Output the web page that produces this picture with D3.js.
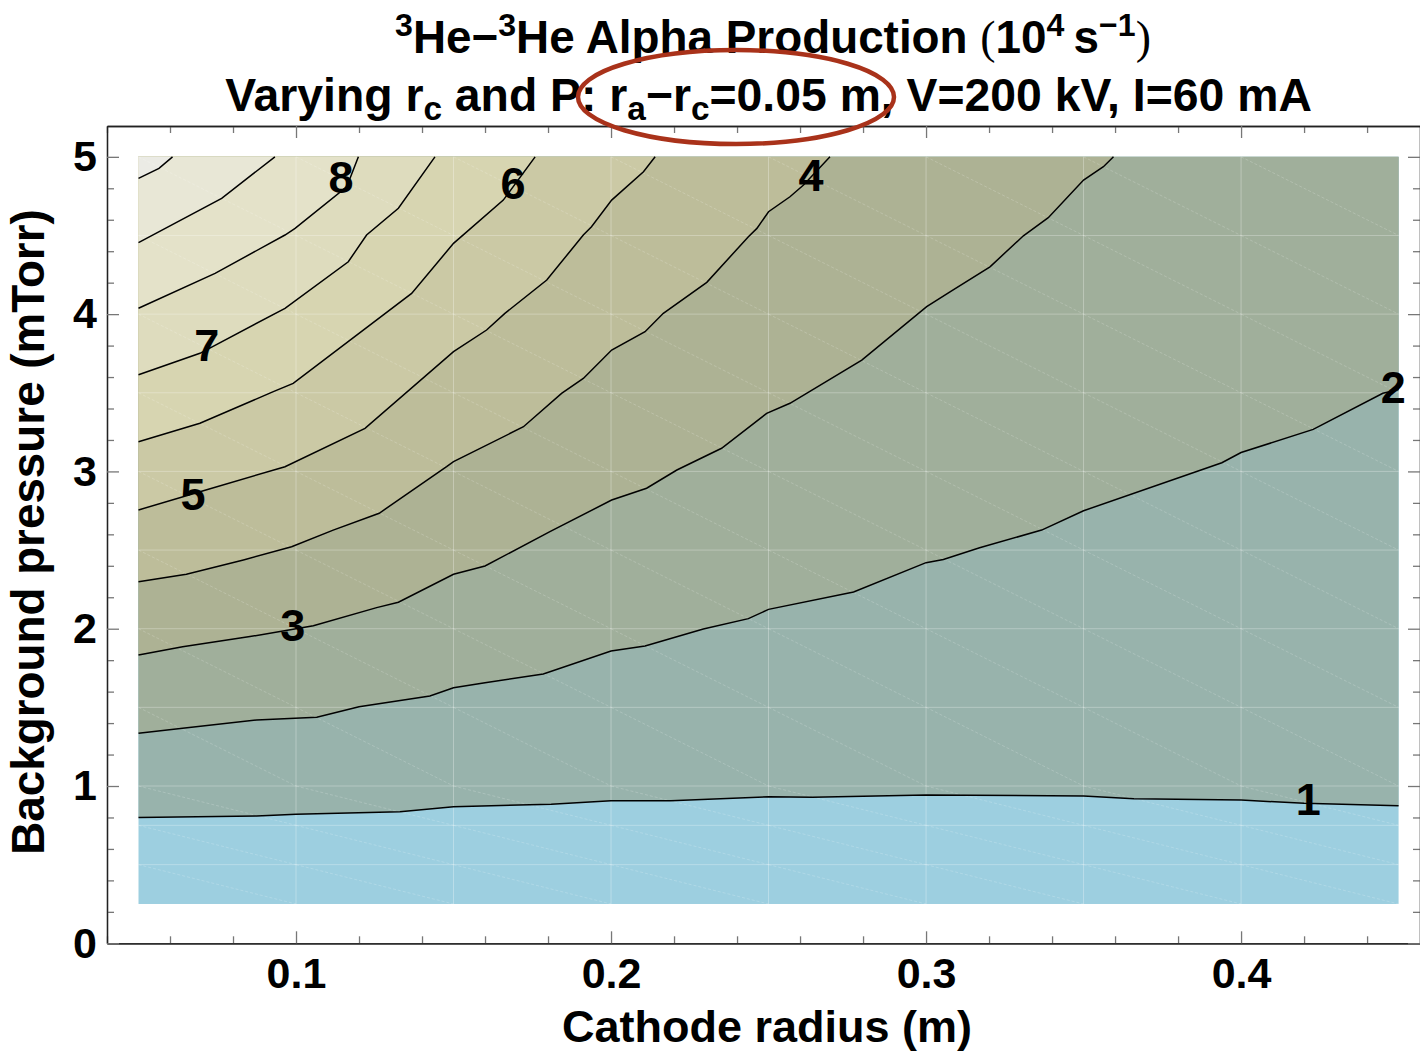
<!DOCTYPE html>
<html><head><meta charset="utf-8">
<script src="https://cdn.jsdelivr.net/npm/d3@7"></script>
<style>
body{margin:0;background:#fff}
svg{display:block}
text{font-family:"Liberation Sans",Arial,sans-serif;font-weight:bold;fill:#000}
</style>
</head><body>
<svg id="chart" width="1420" height="1054"></svg>
<script>
// ---- data (cathode radius m, pressure mTorr) ----
const levels = [1,2,3,4,5,6,7,8,9,10];
const c1 = [[0.05,0.80],[0.0875,0.81],[0.10,0.82],[0.133,0.837],[0.15,0.868],[0.181,0.884],[0.20,0.907],[0.219,0.907],[0.25,0.932],[0.264,0.928],[0.30,0.943],[0.35,0.936],[0.366,0.919],[0.40,0.911],[0.42,0.89],[0.45,0.875]];
const c2 = [[0.05,1.335],[0.064,1.367],[0.0875,1.42],[0.1066,1.437],[0.12,1.504],[0.1425,1.572],[0.15,1.625],[0.16,1.657],[0.1785,1.712],[0.20,1.858],[0.2108,1.89],[0.2293,1.998],[0.2436,2.064],[0.25,2.123],[0.277,2.233],[0.30,2.42],[0.3055,2.44],[0.317,2.515],[0.3367,2.627],[0.35,2.75],[0.3939,3.055],[0.40,3.12],[0.4229,3.267],[0.445,3.497],[0.45,3.52]];
const c3 = [[0.05,1.833],[0.064,1.886],[0.0854,1.95],[0.1055,2.019],[0.1256,2.134],[0.1325,2.168],[0.15,2.346],[0.16,2.399],[0.1806,2.617],[0.2002,2.818],[0.2113,2.893],[0.2209,3.009],[0.2351,3.147],[0.2494,3.369],[0.2568,3.433],[0.2796,3.708],[0.3002,4.047],[0.3076,4.142],[0.3203,4.301],[0.3309,4.498],[0.3388,4.613],[0.35,4.852],[0.3563,4.937],[0.3595,5.0]];
const c4 = [[0.05,2.299],[0.0652,2.346],[0.0833,2.437],[0.0986,2.521],[0.1118,2.627],[0.1264,2.734],[0.1478,3.03],[0.15,3.062],[0.1722,3.284],[0.1843,3.496],[0.1912,3.591],[0.2002,3.772],[0.2108,3.888],[0.2166,4.005],[0.2304,4.202],[0.2436,4.492],[0.2463,4.545],[0.25,4.651],[0.2568,4.746],[0.2611,4.821],[0.2695,5.0]];
const c5 = [[0.05,2.755],[0.0695,2.871],[0.0965,3.03],[0.1219,3.274],[0.15,3.761],[0.1605,3.899],[0.1663,4.005],[0.1796,4.217],[0.1912,4.503],[0.1938,4.556],[0.2002,4.725],[0.2103,4.905],[0.214,5.0]];
const c6 = [[0.05,3.189],[0.0695,3.306],[0.0928,3.507],[0.0991,3.56],[0.1367,4.132],[0.15,4.45],[0.1658,4.725],[0.1759,5.0]];
const c7 = [[0.05,3.615],[0.0695,3.751],[0.0965,4.037],[0.1166,4.333],[0.1224,4.503],[0.1325,4.673],[0.1441,5.0]];
const c8 = [[0.05,4.037],[0.0743,4.259],[0.0965,4.503],[0.0997,4.545],[0.1161,4.81],[0.1198,5.0]];
const c9 = [[0.05,4.454],[0.0764,4.736],[0.0933,5.0]];
const c10 = [[0.05,4.863],[0.0565,4.927],[0.0608,5.0]];
const contourLines = [c1,c2,c3,c4,c5,c6,c7,c8,c9,c10];
const fillColors = ["#9dcfe0","#98b3ac","#a0af9b","#adb294","#bdbd9a","#cbc9a5","#d7d5b1","#dedcbe","#e4e2c9","#e8e7d6","#ebebe5"];
const labelText = ["8","6","4","7","5","3","2","1"];
const labelX = [0.1143,0.1689,0.2635,0.0717,0.0673,0.0990,0.4483,0.4213];
const labelY = [4.872,4.834,4.884,3.804,2.856,2.024,3.536,0.917];
const xMajor = [0.1,0.2,0.3,0.4];
const xMajorLabels = ["0.1","0.2","0.3","0.4"];
const yMajor = [0,1,2,3,4,5];
const yMajorLabels = ["0","1","2","3","4","5"];
const meshX = [0.05,0.1,0.15,0.2,0.25,0.3,0.35,0.4,0.45];
const meshY = [0.25,0.5,0.75,1,1.5,2,2.5,3,3.5,4,4.5,5];
const dataX = [0.05,0.45], dataY = [0.25,5.0];

// ---- layout ----
const svg = d3.select("#chart");
const x = d3.scaleLinear().domain([0.04,0.4568]).range([107,1420]);
const y = d3.scaleLinear().domain([0,5.196]).range([943.3,126]);
const line = d3.line().x(d=>x(d[0])).y(d=>y(d[1]));

// base fill
svg.append("rect").attr("x",x(dataX[0])).attr("y",y(dataY[1]))
  .attr("width",x(dataX[1])-x(dataX[0])).attr("height",y(dataY[0])-y(dataY[1]))
  .attr("fill",fillColors[0]);

// level fills
contourLines.forEach((pts,i)=>{
  const poly = pts.slice();
  const last = pts[pts.length-1];
  if (last[0] >= dataX[1]-1e-9) poly.push([dataX[1],dataY[1]]);
  poly.push([dataX[0],dataY[1]]);
  svg.append("path").attr("d",line(poly)+"Z").attr("fill",fillColors[i+1]);
});

// faint mesh
const mesh = svg.append("g").attr("stroke","#ffffff").attr("stroke-width",1).attr("fill","none");
meshX.slice(1,-1).forEach(v=>mesh.append("line").attr("x1",x(v)).attr("x2",x(v)).attr("y1",y(dataY[0])).attr("y2",y(dataY[1])).attr("stroke-opacity",0.3));
meshY.slice(1,-1).forEach(v=>mesh.append("line").attr("x1",x(dataX[0])).attr("x2",x(dataX[1])).attr("y1",y(v)).attr("y2",y(v)).attr("stroke-opacity",0.28));
for (let i=0;i<meshX.length-1;i++) for (let j=0;j<meshY.length-1;j++) {
  mesh.append("line").attr("x1",x(meshX[i])).attr("y1",y(meshY[j+1]))
    .attr("x2",x(meshX[i+1])).attr("y2",y(meshY[j])).attr("stroke-opacity",0.18)
    .attr("stroke-dasharray","3,2");
}

// contour lines
contourLines.forEach(pts=>{
  svg.append("path").attr("d",line(pts)).attr("fill","none").attr("stroke","#000").attr("stroke-width",1.5);
});

// contour labels
svg.append("g").selectAll("text").data(labelText).join("text")
  .attr("x",(d,i)=>x(labelX[i])).attr("y",(d,i)=>y(labelY[i]))
  .attr("text-anchor","middle").attr("dy","0.36em")
  .attr("font-size",45).text(d=>d);

// ---- axes / frame ----
const minorX = d3.range(0.04,0.4601,0.02).filter(v=>!xMajor.some(m=>Math.abs(m-v)<1e-6));
const minorY = d3.range(0,5.1901,0.2).filter(v=>!yMajor.some(m=>Math.abs(m-v)<1e-6));
function styleAxis(g){
  g.select(".domain").attr("stroke","#222").attr("stroke-width",1.3);
  g.selectAll(".tick line").attr("stroke","#777").attr("stroke-width",1.3);
  g.selectAll(".tick text").attr("font-size",43).attr("font-family","Liberation Sans, Arial, sans-serif").attr("font-weight","bold").attr("fill","#000");
}
const H = 943.3, T = 126, L = 107, R = 1420;
// bottom
svg.append("g").attr("transform",`translate(0,${H})`).call(d3.axisBottom(x).tickValues(minorX).tickSizeInner(-7).tickSizeOuter(0).tickFormat("")).call(styleAxis);
svg.append("g").attr("transform",`translate(0,${H})`).call(d3.axisBottom(x).tickValues(xMajor).tickSizeInner(-12).tickSizeOuter(0).tickPadding(14).tickFormat((d,i)=>xMajorLabels[i])).call(styleAxis);
// top
svg.append("g").attr("transform",`translate(0,${T})`).call(d3.axisTop(x).tickValues(minorX).tickSizeInner(-7).tickSizeOuter(0).tickFormat("")).call(styleAxis);
svg.append("g").attr("transform",`translate(0,${T})`).call(d3.axisTop(x).tickValues(xMajor).tickSizeInner(-12).tickSizeOuter(0).tickFormat("")).call(styleAxis);
// left
svg.append("g").attr("transform",`translate(${L},0)`).call(d3.axisLeft(y).tickValues(minorY).tickSizeInner(-7).tickSizeOuter(0).tickFormat("")).call(styleAxis);
svg.append("g").attr("transform",`translate(${L},0)`).call(d3.axisLeft(y).tickValues(yMajor).tickSizeInner(-12).tickSizeOuter(0).tickPadding(10).tickFormat((d,i)=>yMajorLabels[i])).call(styleAxis);
// right
svg.append("g").attr("transform",`translate(${R},0)`).call(d3.axisRight(y).tickValues(minorY).tickSizeInner(-7).tickSizeOuter(0).tickFormat("")).call(styleAxis);
svg.append("g").attr("transform",`translate(${R},0)`).call(d3.axisRight(y).tickValues(yMajor).tickSizeInner(-12).tickSizeOuter(0).tickFormat("")).call(styleAxis);

// axis titles
svg.append("text").attr("x",767).attr("y",1042).attr("text-anchor","middle").attr("font-size",45).text("Cathode radius (m)");
svg.append("text").attr("transform","translate(44,532) rotate(-90)").attr("text-anchor","middle").attr("font-size",45.8).text("Background pressure (mTorr)");

// ---- titles ----
function rich(parent, parts){
  parts.forEach(p=>{
    const t = parent.append("tspan").text(p.t);
    if (p.sup) t.attr("font-size","70%").attr("dy",-17);
    if (p.sub) t.attr("font-size","72%").attr("dy",9);
    if (p.back) t.attr("dy",p.back);
    if (p.serif) t.attr("font-family","Liberation Serif, Times New Roman, serif").attr("font-weight","normal");
  });
}
const t1 = svg.append("text").attr("x",773).attr("y",53).attr("text-anchor","middle").attr("font-size",44);
rich(t1,[{t:"3",sup:1},{t:"He\u2212",back:17},{t:"3",sup:1},{t:"He Alpha Production ",back:17},{t:"(",serif:1},{t:"10"},{t:"4",sup:1},{t:"\u2009s",back:17},{t:"\u22121",sup:1},{t:")",serif:1,back:17}]);
const t2 = svg.append("text").attr("x",768.5).attr("y",111).attr("text-anchor","middle").attr("font-size",44);
rich(t2,[{t:"Varying r"},{t:"c",sub:1},{t:" and P: r",back:-9},{t:"a",sub:1},{t:"\u2212r",back:-9},{t:"c",sub:1},{t:"=0.05 m, V=200 kV, I=60 mA",back:-9}]);
function fit(t,target){
  const w = t.node().getComputedTextLength();
  if (w>0) t.attr("font-size",44*target/w);
}
fit(t1,756); fit(t2,1087);

// annotation ellipse
svg.append("ellipse").attr("cx",736).attr("cy",97).attr("rx",158).attr("ry",47)
  .attr("fill","none").attr("stroke","#a9321a").attr("stroke-width",4.5);
</script>
</body></html>
